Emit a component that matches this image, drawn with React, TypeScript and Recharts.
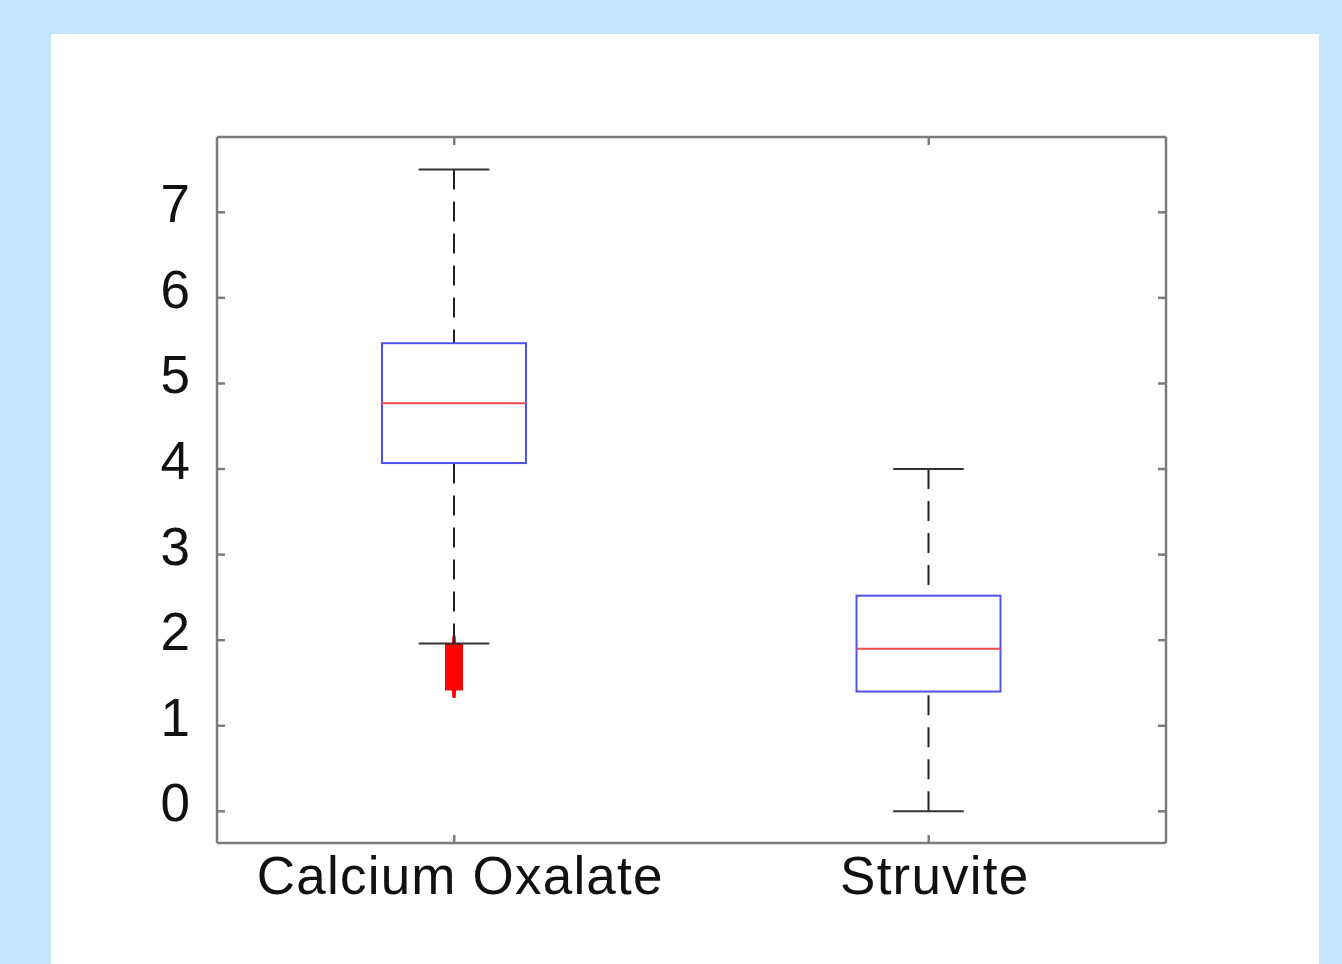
import React from 'react';
import { ComposedChart, Bar, XAxis, YAxis } from 'recharts';

// box plot stats
const categories = ['Calcium Oxalate', 'Struvite'];
const whiskerLow = [1.96, 0];
const q1 = [4.07, 1.4];
const median = [4.77, 1.9];
const q3 = [5.47, 2.52];
const whiskerHigh = [7.5, 4.0];
const caOxOutliers = [
  1.95, 1.93, 1.91, 1.89, 1.86, 1.84, 1.82, 1.79, 1.77, 1.75, 1.72, 1.7,
  1.68, 1.65, 1.63, 1.61, 1.58, 1.56, 1.53, 1.51, 1.49, 1.46, 1.44, 1.43,
];
const struviteOutliers: number[] = [];
const yTicks = [0, 1, 2, 3, 4, 5, 6, 7];

const outliers = [caOxOutliers, struviteOutliers];

const data = categories.map((name, i) => ({
  name,
  range: [whiskerLow[i], whiskerHigh[i]],
  lo: whiskerLow[i],
  q1: q1[i],
  median: median[i],
  q3: q3[i],
  hi: whiskerHigh[i],
  outliers: outliers[i],
}));

const AXIS = '#7c7c7c';
const FONT = 'Arial, "Liberation Sans", sans-serif';

const BoxShape = (props: any) => {
  const { x, y, width, height, payload } = props;
  if (!payload) return null;
  const top = Math.min(y, y + height);
  const bottom = Math.max(y, y + height);
  const perUnit = (bottom - top) / (payload.hi - payload.lo);
  const py = (v: number) => bottom - (v - payload.lo) * perUnit;
  const cx = x + width / 2;
  const cap = width * 0.245;
  const arm = 9;
  return (
    <g>
      {payload.outliers.map((v: number, k: number) => (
        <g key={k} stroke="#ff0000" strokeWidth={3}>
          <line x1={cx - arm} x2={cx + arm} y1={py(v)} y2={py(v)} />
          <line x1={cx} x2={cx} y1={py(v) - arm} y2={py(v) + arm} />
        </g>
      ))}
      {/* whiskers, dashed from the caps toward the box */}
      <line x1={cx} x2={cx} y1={py(payload.hi)} y2={py(payload.q3)} stroke="#222" strokeWidth={2} strokeDasharray="20 12" />
      <line x1={cx} x2={cx} y1={py(payload.lo)} y2={py(payload.q1)} stroke="#222" strokeWidth={2} strokeDasharray="20 12" />
      <line x1={cx - cap} x2={cx + cap} y1={py(payload.hi)} y2={py(payload.hi)} stroke="#333" strokeWidth={2} />
      <line x1={cx - cap} x2={cx + cap} y1={py(payload.lo)} y2={py(payload.lo)} stroke="#333" strokeWidth={2} />
      <rect x={x} y={py(payload.q3)} width={width} height={py(payload.q1) - py(payload.q3)} fill="none" stroke="#5050ee" strokeWidth={2} />
      <line x1={x} x2={x + width} y1={py(payload.median)} y2={py(payload.median)} stroke="#ee4c4c" strokeWidth={2} />
    </g>
  );
};

const YTick = (props: any) => (
  <text x={props.x} y={props.y} dy={10} textAnchor="end" fontFamily={FONT} fontSize={53} fill="#111">
    {props.payload.value}
  </text>
);

const XTick = (props: any) => (
  <text x={props.x + 6} y={props.y} dy={59} textAnchor="middle" fontFamily={FONT} fontSize={53} letterSpacing={1.2} fill="#111">
    {props.payload.value}
  </text>
);

const NoTick = () => <g />;

export default function App() {
  return (
    <div style={{ position: 'absolute', left: 0, top: 0, width: 1342, height: 964, background: '#c3e4fd', overflow: 'hidden' }}>
      <div style={{ position: 'absolute', left: 51, top: 34, width: 1268, height: 930, background: '#ffffff' }} />
      <div style={{ position: 'absolute', left: 0, top: 0 }}>
        <ComposedChart width={1342} height={964} data={data} margin={{ top: 127, right: 166, bottom: 41, left: 117 }}>
          <XAxis dataKey="name" type="category" height={80} stroke={AXIS} strokeWidth={2.5} tickSize={-8} tickMargin={0} tick={XTick} />
          <XAxis xAxisId="top" dataKey="name" type="category" orientation="top" height={10} stroke={AXIS} strokeWidth={2.5} tickSize={-8} tick={NoTick} />
          <YAxis type="number" domain={[-0.37, 7.88]} ticks={yTicks} allowDataOverflow width={100} stroke={AXIS} strokeWidth={2.5} tickSize={-8} tickMargin={35} tick={YTick} />
          <YAxis yAxisId="right" orientation="right" type="number" domain={[-0.37, 7.88]} ticks={yTicks} allowDataOverflow width={10} stroke={AXIS} strokeWidth={2.5} tickSize={-8} tick={NoTick} />
          <Bar dataKey="range" barSize={144} shape={BoxShape} isAnimationActive={false} />
        </ComposedChart>
      </div>
    </div>
  );
}
